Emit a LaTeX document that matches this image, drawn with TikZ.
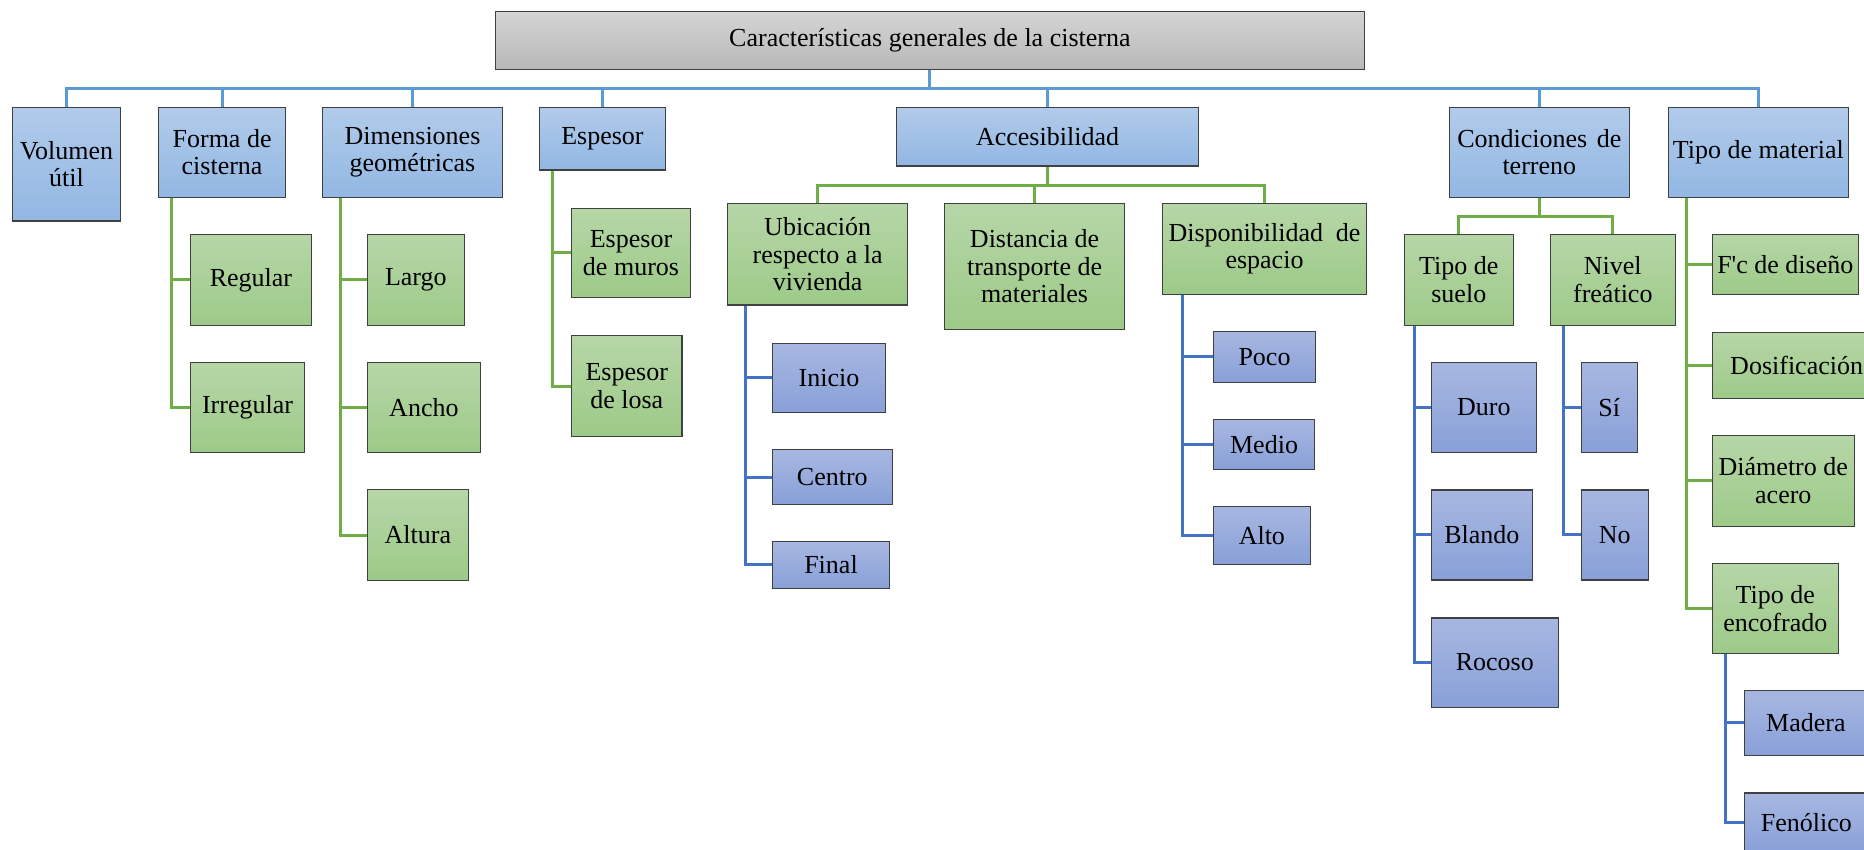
\documentclass[tikz,border=0pt]{standalone}
\usepackage{fontspec}
\setmainfont{Liberation Serif}
\newfontfamily\plainserif{Liberation Serif}[Ligatures=TeXOff]
\definecolor{edge}{RGB}{64,64,64}
\definecolor{busblue}{RGB}{91,155,213}
\definecolor{leafblue}{RGB}{68,114,196}
\definecolor{branchgreen}{RGB}{112,173,71}
\definecolor{blueTop}{RGB}{177,203,234}
\definecolor{blueBot}{RGB}{146,183,227}
\definecolor{leafTop}{RGB}{168,183,225}
\definecolor{leafBot}{RGB}{136,160,216}
\definecolor{greenTop}{RGB}{182,214,167}
\definecolor{greenBot}{RGB}{157,202,136}
\definecolor{grayTop}{RGB}{212,212,212}
\definecolor{grayBot}{RGB}{184,184,184}
\tikzset{
  cell/.style={draw=edge, line width=0.7pt, inner sep=1pt, align=center,
    font=\fontsize{13pt}{13.8pt}\selectfont},
  rootbox/.style={cell, top color=grayTop, bottom color=grayBot},
  topicbox/.style={cell, top color=blueTop, bottom color=blueBot},
  itembox/.style={cell, top color=greenTop, bottom color=greenBot},
  leafbox/.style={cell, top color=leafTop, bottom color=leafBot},
  bline/.style={draw=busblue, line width=1.5pt},
  gline/.style={draw=branchgreen, line width=1.5pt},
  lline/.style={draw=leafblue, line width=1.5pt},
}
% box by its corners, given in units of 0.5pt, y growing downwards
\newcommand\bx[7]{%
  \pgfmathsetmacro\bxw{(#5-#3)*0.5}%
  \pgfmathsetmacro\bxh{(#6-#4)*0.5}%
  \node[#1, minimum width=\bxw pt, minimum height=\bxh pt] (#2)
    at ({(#3+#5)/2},{(#4+#6)/2}) {#7};}
\begin{document}
\begin{tikzpicture}[x=0.5pt,y=-0.5pt]
\useasboundingbox (0,0) rectangle (1864,850);
\clip (0,0) rectangle (1864,850);
\fill[white] (0,0) rectangle (1864,850);

% root and first level
\bx{rootbox}{root}{495.5}{11.7}{1364.3}{69.3}{Características generales de la cisterna}
\bx{topicbox}{vol}{12.5}{107.3}{120.5}{221}{Volumen\\útil}
\bx{topicbox}{forma}{158.5}{107.3}{285.7}{197.3}{Forma de\\cisterna}
\bx{topicbox}{dim}{322.3}{107.3}{502.7}{197.3}{Dimensiones\\geométricas}
\bx{topicbox}{esp}{539.3}{107.3}{665.6}{170}{Espesor}
\bx{topicbox}{acc}{896.4}{107.3}{1198.7}{166}{Accesibilidad}
\bx{topicbox}{cond}{1449.3}{107.3}{1629.3}{197.3}{\makebox[82pt][s]{Condiciones de}\\terreno}
\bx{topicbox}{tmat}{1668.3}{107.3}{1848.3}{197.3}{Tipo de material}

% second level
\bx{itembox}{regular}{190.6}{234.3}{311.2}{325.3}{Regular}
\bx{itembox}{irregular}{190.6}{362.7}{304.5}{452.3}{Irregular}
\bx{itembox}{largo}{367.4}{234.3}{464.3}{325.3}{Largo}
\bx{itembox}{ancho}{367.4}{362.7}{480.4}{452.3}{Ancho}
\bx{itembox}{altura}{367.4}{489.7}{468.3}{580.3}{Altura}
\bx{itembox}{muros}{571.4}{208.7}{690.6}{297.3}{Espesor\\de muros}
\bx{itembox}{losa}{571.4}{335.7}{682.1}{436.3}{Espesor\\de losa}
\bx{itembox}{ubic}{727.7}{203.3}{907.6}{305}{Ubicación\\respecto a la\\vivienda}
\bx{itembox}{dist}{944.6}{203.3}{1124.6}{329.3}{Distancia de\\transporte de\\materiales}
\bx{itembox}{disp}{1162.5}{203.3}{1366.5}{294.3}{\makebox[96pt][s]{Disponibilidad de}\\espacio}
\bx{itembox}{suelo}{1404.3}{234.3}{1513.3}{325.3}{Tipo de\\suelo}
\bx{itembox}{nivel}{1550.3}{234.3}{1675.3}{325.3}{Nivel\\freático}
\bx{itembox}{fc}{1712.3}{234.3}{1858.3}{294.3}{F{\plainserif '}c de diseño}
\bx{itembox}{dosif}{1712.3}{332.5}{1881}{398.3}{Dosificación}
\bx{itembox}{diam}{1712.3}{435.4}{1854.3}{526.2}{Diámetro de\\acero}
\bx{itembox}{encof}{1712.3}{563.4}{1838.3}{653.3}{Tipo de\\encofrado}

% third level
\bx{leafbox}{inicio}{772.3}{343.3}{885.7}{412.3}{Inicio}
\bx{leafbox}{centro}{772.3}{449.7}{892.4}{504.3}{Centro}
\bx{leafbox}{final}{772.3}{541.3}{889.7}{588.3}{Final}
\bx{leafbox}{poco}{1213.4}{331.7}{1315.6}{382.3}{Poco}
\bx{leafbox}{medio}{1213.4}{419.3}{1314.7}{469.3}{Medio}
\bx{leafbox}{alto}{1213.4}{506.7}{1310.3}{564.3}{Alto}
\bx{leafbox}{duro}{1431.3}{362.8}{1536.3}{452.2}{Duro}
\bx{leafbox}{blando}{1431.3}{489.8}{1532.3}{579.9}{Blando}
\bx{leafbox}{rocoso}{1431.3}{617.8}{1558.3}{707.2}{Rocoso}
\bx{leafbox}{si}{1581.3}{362.8}{1637.3}{452.2}{Sí}
\bx{leafbox}{no}{1581.3}{489.8}{1648.3}{579.9}{No}
\bx{leafbox}{madera}{1744.3}{690.5}{1867.5}{755.2}{Madera}
\bx{leafbox}{fenol}{1744.3}{793}{1868.5}{852.5}{Fenólico}

% main bus
\coordinate (busy) at (0,89);
\draw[bline] (vol.north) -- (vol.north |- busy) -| (tmat.north);
\draw[bline] (root.south) -- (root.south |- busy);
\foreach \n in {forma,dim,esp,acc,cond}
  \draw[bline] (\n.north) -- (\n.north |- busy);

% accesibilidad bus
\coordinate (accy) at (0,185.7);
\draw[gline] (ubic.north) -- (ubic.north |- accy) -| (disp.north);
\draw[gline] (acc.south) -- (acc.south |- accy);
\draw[gline] (dist.north) -- (dist.north |- accy);

% condiciones bus
\coordinate (condy) at (0,216.7);
\draw[gline] (suelo.north) -- (suelo.north |- condy) -| (nivel.north);
\draw[gline] (cond.south) -- (cond.south |- condy);

% side branches
\foreach \c in {regular,irregular}
  \draw[gline] ([xshift=6.7pt]forma.south west) |- (\c.west);
\foreach \c in {largo,ancho,altura}
  \draw[gline] ([xshift=9.6pt]dim.south west) |- (\c.west);
\foreach \c in {muros,losa}
  \draw[gline] ([xshift=6.7pt]esp.south west) |- (\c.west);
\foreach \c in {fc,dosif,diam,encof}
  \draw[gline] ([xshift=9.2pt]tmat.south west) |- (\c.west);
\foreach \c in {inicio,centro,final}
  \draw[lline] ([xshift=9.35pt]ubic.south west) |- (\c.west);
\foreach \c in {poco,medio,alto}
  \draw[lline] ([xshift=10.5pt]disp.south west) |- (\c.west);
\foreach \c in {duro,blando,rocoso}
  \draw[lline] ([xshift=5.5pt]suelo.south west) |- (\c.west);
\foreach \c in {si,no}
  \draw[lline] ([xshift=6.7pt]nivel.south west) |- (\c.west);
\foreach \c in {madera,fenol}
  \draw[lline] ([xshift=6.85pt]encof.south west) |- (\c.west);
\end{tikzpicture}
\end{document}
